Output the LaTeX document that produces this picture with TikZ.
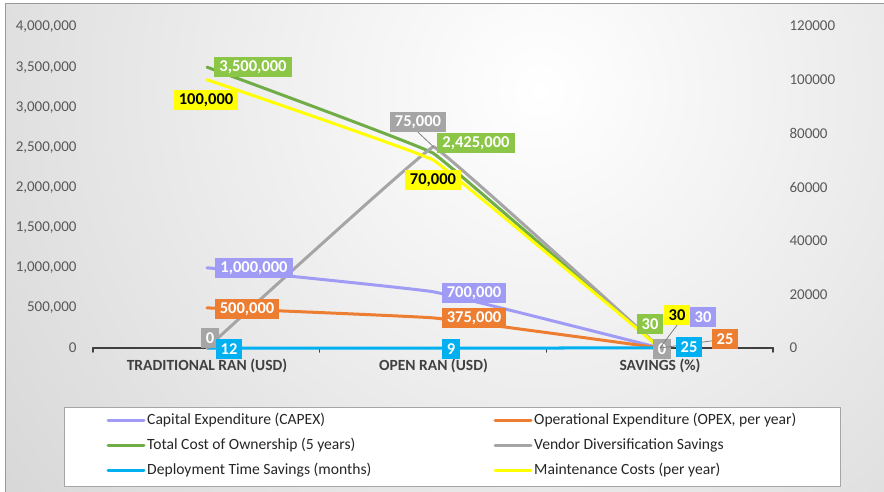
\documentclass[tikz,border=0pt]{standalone}
\usepackage{fontspec}
\setmainfont{Carlito}
\definecolor{capex}{RGB}{160,155,245}
\definecolor{opex}{RGB}{237,125,49}
\definecolor{tcoline}{RGB}{112,173,71}
\definecolor{tcobox}{RGB}{140,198,70}
\definecolor{vendor}{RGB}{165,165,165}
\definecolor{deploy}{RGB}{0,176,240}
\definecolor{maint}{RGB}{255,255,0}
\definecolor{ticktext}{RGB}{89,89,89}
\definecolor{axisdark}{RGB}{64,64,64}
\begin{document}
\begin{tikzpicture}
      [x=1pt,y=-1pt,line cap=round,line join=round,
       tick/.style={text=ticktext,font=\fontsize{15}{17}\selectfont},
       cat/.style={text=axisdark,font=\bfseries\fontsize{15.5}{17}\selectfont},
       lbl/.style={inner xsep=5pt,inner ysep=0pt,minimum height=20pt,text=white,font=\bfseries\fontsize{16.5}{18}\selectfont},
       series/.style={line width=3pt},
       leader/.style={draw=black!50,line width=0.8pt},
       legtext/.style={anchor=west,inner sep=0pt,text=black!85,font=\fontsize{15.6}{17}\selectfont}]

\useasboundingbox (0,0) rectangle (884,492);

%chart area with its soft shading
\begin{scope}
  \clip (5,4) rectangle (884,492);
  \shade[inner color=white,outer color=black!30] (540,90) circle (1300);
\end{scope}
\draw[black!40,line width=1pt] (5,492) -- (5,4) -- (884,4);

%both value axes
\foreach \t [count=\i from 0] in {0,{500,000},{1,000,000},{1,500,000},{2,000,000},{2,500,000},{3,000,000},{3,500,000},{4,000,000}}
  \node[tick,anchor=east] (yl\i) at (80,{348-\i*40.125}) {\t};
\foreach \t [count=\i from 0] in {0,20000,40000,60000,80000,100000,120000}
  \node[tick,anchor=west] (yr\i) at (786,{348-\i*53.65}) {\t};

%category axis
\draw[axisdark,line width=2pt] (93,348) -- (773,348);
\foreach \x in {93,319.7,546.3,773}
  \draw[axisdark,line width=1.5pt] (\x,348) -- (\x,352);
\node[cat] (catA) at (207,366) {TRADITIONAL RAN (USD)};
\node[cat] (catB) at (433.5,366) {OPEN RAN (USD)};
\node[cat] (catC) at (660,366) {SAVINGS (\%)};

%primary axis points (thousands)
\begin{scope}[shift={(0,348)},y=0.08025pt]
  \coordinate (capexA) at (207,1000);  \coordinate (capexB) at (433.5,700);  \coordinate (capexC) at (660,0.03);
  \coordinate (opexA) at (207,500);    \coordinate (opexB) at (433.5,375);   \coordinate (opexC) at (660,0.025);
  \coordinate (tcoA) at (207,3500);    \coordinate (tcoB) at (433.5,2425);   \coordinate (tcoC) at (660,0.03);
  \coordinate (deployA) at (207,0.012); \coordinate (deployB) at (433.5,0.009); \coordinate (deployC) at (660,0.025);
\end{scope}
%secondary axis points (thousands)
\begin{scope}[shift={(0,348)},y=2.683pt]
  \coordinate (vendA) at (207,0);      \coordinate (vendB) at (433.5,75);    \coordinate (vendC) at (660,0);
  \coordinate (maintA) at (207,100);   \coordinate (maintB) at (433.5,70);   \coordinate (maintC) at (660,0.03);
\end{scope}

%series
\draw[series,capex] plot[smooth,tension=0.15] coordinates {(capexA) (capexB) (capexC)};
\draw[series,opex] plot[smooth,tension=0.15] coordinates {(opexA) (opexB) (opexC)};
\draw[series,tcoline] plot[smooth,tension=0.1] coordinates {(tcoA) (tcoB) (tcoC)};
\draw[series,deploy] (deployA) -- (deployB) -- (deployC);
\draw[series,vendor] plot[smooth,tension=0.05] coordinates {(vendA) (vendB) (vendC)};
\draw[series,maint] plot[smooth,tension=0.1] coordinates {(maintA) (maintB) (maintC)};

%data labels
\node[lbl,fill=tcobox] (tcoLblA) at (253,67) {3,500,000};
\node[lbl,fill=maint,text=black] (maintLblA) at (206,100) {100,000};
\node[lbl,fill=vendor] (vendLblB) at (418,122) {75,000};
\node[lbl,fill=tcobox] (tcoLblB) at (476,143) {2,425,000};
\node[lbl,fill=maint,text=black] (maintLblB) at (433,180) {70,000};
\node[lbl,fill=capex] (capexLblA) at (254,268) {1,000,000};
\node[lbl,fill=capex] (capexLblB) at (474,293) {700,000};
\node[lbl,fill=opex] (opexLblA) at (247,309) {500,000};
\node[lbl,fill=opex] (opexLblB) at (474,318) {375,000};
\node[lbl,fill=vendor] (vendLblA) at (210,338) {0};
\node[lbl,fill=deploy] (deployLblA) at (229,349) {12};
\node[lbl,fill=deploy] (deployLblB) at (451,349) {9};
\node[lbl,fill=tcobox] (tcoLblC) at (650,324) {30};
\node[lbl,fill=maint,text=black] (maintLblC) at (677,315) {30};
\node[lbl,fill=capex] (capexLblC) at (703,317) {30};
\node[lbl,fill=vendor] (vendLblC) at (662,349) {0};
\draw[leader] (vendLblB.south) -- (vendB);
\draw[leader] (maintLblC.south) -- (maintC);
\draw[leader] (opexC) -- (725,339);
\node[lbl,fill=deploy] (deployLblC) at (689,347) {25};
\node[lbl,fill=opex] (opexLblC) at (725,339) {25};

%legend
\draw[fill=white,draw=black!35] (64,407) rectangle (840,486);
\node[legtext] (legCapex) at (147,420) {Capital Expenditure (CAPEX)};
\node[legtext] (legTco) at (147,445) {Total Cost of Ownership (5 years)};
\node[legtext] (legDeploy) at (147,470) {Deployment Time Savings (months)};
\node[legtext] (legOpex) at (534,420) {Operational Expenditure (OPEX, per year)};
\node[legtext] (legVend) at (534,445) {Vendor Diversification Savings};
\node[legtext] (legMaint) at (534,470) {Maintenance Costs (per year)};
\draw[series,capex] ([xshift=-39pt]legCapex.west) -- ([xshift=-3pt]legCapex.west);
\draw[series,tcoline] ([xshift=-39pt]legTco.west) -- ([xshift=-3pt]legTco.west);
\draw[series,deploy] ([xshift=-39pt]legDeploy.west) -- ([xshift=-3pt]legDeploy.west);
\draw[series,opex] ([xshift=-39pt]legOpex.west) -- ([xshift=-3pt]legOpex.west);
\draw[series,vendor] ([xshift=-39pt]legVend.west) -- ([xshift=-3pt]legVend.west);
\draw[series,maint] ([xshift=-39pt]legMaint.west) -- ([xshift=-3pt]legMaint.west);

\end{tikzpicture}
\end{document}
